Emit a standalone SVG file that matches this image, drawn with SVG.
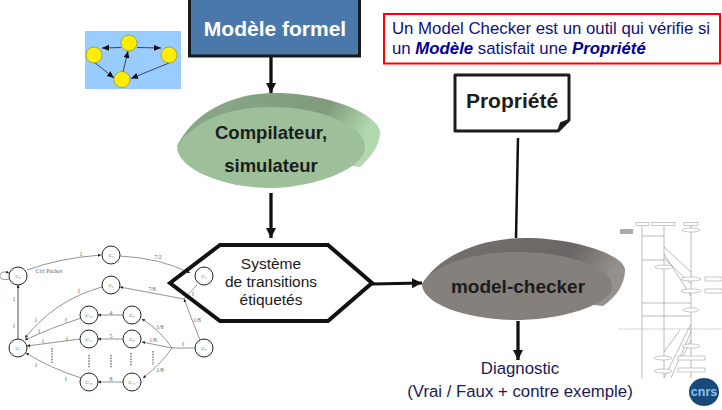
<svg xmlns="http://www.w3.org/2000/svg" width="722" height="410" viewBox="0 0 722 410">
<style>
text{font-family:"Liberation Sans",Arial,sans-serif;text-anchor:middle}
.main{stroke:#111;stroke-width:3.3;fill:none}
.lts{stroke:#777;stroke-width:.8;fill:none}
.st{stroke:#222;stroke-width:1;fill:#fff}
.sl{font-family:"Liberation Serif",serif;font-size:5px;fill:#555}
.el{font-family:"Liberation Serif",serif;font-size:6px;fill:#666}
.dot{stroke:#333;stroke-width:1;stroke-dasharray:1.5 1.2;fill:none}
.sq{stroke:#777;stroke-width:.5;fill:none}
.sb{stroke:#777;stroke-width:.4;fill:#fff}
.lab{fill:#1c1c1c;font-weight:bold}
.dg{fill:#1a1a55}
.yl{fill:#ffee00;stroke:#8a8a40;stroke-width:.7}
</style>
<defs>
<marker id="big" markerUnits="userSpaceOnUse" markerWidth="12" markerHeight="12" refX="10" refY="5" orient="auto"><path d="M0,0L10,5L0,10Z" fill="#111"/></marker>
<marker id="sm" markerUnits="userSpaceOnUse" markerWidth="9" markerHeight="8" refX="7" refY="3" orient="auto"><path d="M0,0L7,3L0,6Z" fill="#111"/></marker>
<marker id="tn" markerUnits="userSpaceOnUse" markerWidth="4" markerHeight="4" refX="3" refY="1.5" orient="auto"><path d="M0,0L3,1.5L0,3Z" fill="#222"/></marker>
<linearGradient id="gb" x1="0" y1="0" x2="1" y2="0.2"><stop offset="0" stop-color="#8cab89"/><stop offset=".75" stop-color="#7e9b7c"/><stop offset="1" stop-color="#b2d8ae"/></linearGradient>
<linearGradient id="mb" x1="0" y1="0" x2="1" y2="0.2"><stop offset="0" stop-color="#77726f"/><stop offset=".75" stop-color="#6b6664"/><stop offset="1" stop-color="#95908b"/></linearGradient>
</defs>

<g id="petit-graphe">
<rect x="85" y="31" width="96" height="58" fill="#99ccff"/>
<g style="stroke:#223;stroke-width:.8;fill:none">
<path d="M121,47.500L102,48" marker-end="url(#sm)"/>
<path d="M137,47.500L161,48" marker-end="url(#sm)"/>
<path d="M94,62L114,78" marker-end="url(#sm)"/>
<path d="M123,72L128,51" marker-end="url(#sm)"/>
<path d="M169,63L131,78.500" marker-end="url(#sm)"/>
</g>
<circle class="yl" cx="129" cy="43" r="8"/><circle class="yl" cx="94" cy="55" r="8"/><circle class="yl" cx="169" cy="55" r="8"/><circle class="yl" cx="122" cy="79.500" r="8"/>
</g>

<g id="lts">
<g class="lts">
<path d="M27,270Q60,258 101,255" marker-end="url(#tn)"/>
<path d="M120,256Q160,258 190,273" marker-end="url(#tn)"/>
<path d="M197,285L184,299"/>
<path d="M184,299L120,287" marker-end="url(#tn)"/>
<path d="M102,287Q55,300 25,338" marker-end="url(#tn)"/>
<path d="M81,318Q50,328 25,340" marker-end="url(#tn)"/>
<path d="M80,339L27,346" marker-end="url(#tn)"/>
<path d="M81,378Q50,368 26,353" marker-end="url(#tn)"/>
<path d="M123,315H98" marker-end="url(#tn)"/>
<path d="M123,339H98" marker-end="url(#tn)"/>
<path d="M123,382H98" marker-end="url(#tn)"/>
<path d="M195,348H172"/>
<path d="M172,348Q160,330 142,319" marker-end="url(#tn)"/>
<path d="M172,348L142,342" marker-end="url(#tn)"/>
<path d="M172,348Q160,365 143,378" marker-end="url(#tn)"/>
<path d="M200,340L184,299" marker-end="url(#tn)"/>
<path d="M18,339V285" style="stroke-width:1.300" marker-end="url(#tn)"/>
<path d="M9,279C-3,283 -3,268 9,273" marker-end="url(#tn)"/>
</g>
<g class="dot"><path d="M52,348V363"/><path d="M89,355V368"/><path d="M111,355V368"/><path d="M131,353V366"/><path d="M153,351V365"/></g>
<g class="st"><circle cx="18" cy="276" r="9"/><circle cx="111" cy="255" r="9"/><circle cx="111" cy="285" r="9"/><circle cx="204" cy="276" r="9"/><circle cx="18" cy="348" r="9"/><circle cx="89" cy="315" r="9"/><circle cx="132" cy="315" r="9"/><circle cx="89" cy="339" r="9"/><circle cx="132" cy="339" r="9"/><circle cx="89" cy="382" r="9"/><circle cx="132" cy="382" r="9"/><circle cx="204" cy="348" r="9"/></g>
<text class="sl" x="18" y="278">C₂</text><text class="sl" x="111" y="257">C₃</text><text class="sl" x="111" y="287">C₃</text><text class="sl" x="204" y="278">C₄</text><text class="sl" x="18" y="350">C₁</text><text class="sl" x="89" y="317">C₁₀</text><text class="sl" x="132" y="317">C₇</text><text class="sl" x="89" y="341">C₁₄</text><text class="sl" x="132" y="341">C₈</text><text class="sl" x="89" y="384">C₁₅</text><text class="sl" x="132" y="384">C₁₁</text><text class="sl" x="204" y="350">C₅</text>
<text class="el" x="49" y="273">Ctrl Packet</text><text class="el" x="81" y="256">1</text><text class="el" x="158" y="259">7/2</text><text class="el" x="79" y="293">f</text><text class="el" x="152" y="291">7/8</text><text class="el" x="193" y="296">f</text><text class="el" x="197" y="322">1/8</text><text class="el" x="14" y="301">1</text><text class="el" x="14" y="328">f</text><text class="el" x="36" y="322">1</text><text class="el" x="66" y="322">f</text><text class="el" x="39" y="333">1</text><text class="el" x="43" y="343">1</text><text class="el" x="67" y="341">f</text><text class="el" x="36" y="367">1</text><text class="el" x="66" y="381">f</text><text class="el" x="111" y="315">4</text><text class="el" x="111" y="338">5</text><text class="el" x="111" y="381">8</text><text class="el" x="160" y="329">1/8</text><text class="el" x="153" y="342">1/8</text><text class="el" x="160" y="372">1/8</text><text class="el" x="183" y="346">f</text>
</g>

<g id="sequence">
<g class="sq">
<path d="M642,226V378M664,226V378M691,226V378"/>
<path d="M642,236H664M664,260H642M691,303H642M642,316H691M664,247L691,272M664,254L691,296M664,258L691,284M691,324L664,378M691,332L671,378M691,340L681,360M680,330L664,352"/>
<path d="M619,329H722" stroke-dasharray="1.500 1"/>
</g>
<g class="sb">
<rect x="636" y="222.500" width="13" height="3"/><rect x="652" y="222.500" width="23" height="3"/><rect x="684" y="222.500" width="14" height="3"/>
<rect x="620" y="229" width="13" height="5" style="fill:#aaa;stroke:none"/>
<ellipse cx="691" cy="230" rx="9" ry="2"/><ellipse cx="664" cy="267" rx="9" ry="2"/><ellipse cx="691" cy="279" rx="10" ry="2"/><ellipse cx="691" cy="291" rx="10" ry="2"/><ellipse cx="691" cy="310" rx="8" ry="2"/><ellipse cx="691" cy="346" rx="9" ry="2"/><ellipse cx="663" cy="358" rx="9" ry="2"/><ellipse cx="663" cy="371" rx="9" ry="2"/>
<rect x="705" y="277" width="17" height="4"/><rect x="705" y="289" width="17" height="4"/><rect x="678" y="356" width="27" height="4"/><rect x="678" y="368" width="27" height="4"/>
</g>
</g>

<g id="connecteurs">
<path class="main" d="M271,56V93" marker-end="url(#big)"/>
<path class="main" d="M271,193V238" marker-end="url(#big)"/>
<path d="M372,284L422,283" style="stroke:#111;stroke-width:2.800;fill:none" marker-end="url(#big)"/>
<path d="M518,138L516,238" style="stroke:#111;stroke-width:2.500;fill:none"/>
<path class="main" d="M518,321V360" marker-end="url(#big)"/>
</g>

<g id="modele-formel">
<rect x="189.500" y="-5" width="170" height="61" fill="#4a78aa" stroke="#1a1a1a" stroke-width="3"/>
<text x="275" y="36" font-size="21" font-weight="bold" fill="#fff">Modèle formel</text>
</g>

<g id="compilateur">
<path d="M177,146C195,110 235,93 275,93C330,93 380,115 380,133C380,145 370,158 360,167Z" fill="url(#gb)"/>
<path d="M177,146C195,120 230,107 271,107C320,107 365,125 365,147C365,170 310,188 271,188C225,188 177,170 177,146Z" fill="#9dc09b"/>
<text class="lab" x="271" y="139" font-size="18.500">Compilateur,</text>
<text class="lab" x="271" y="172" font-size="18.500">simulateur</text>
</g>

<g id="systeme">
<path d="M170,283L220,245H328L372,283L328,321H220Z" fill="none" stroke="#111" stroke-width="4"/>
<g fill="#1a1a1a" font-size="15.500"><text x="271" y="269">Système</text><text x="271" y="287">de transitions</text><text x="271" y="305">étiquetés</text></g>
</g>

<g id="propriete">
<path d="M455,75H569V120L558,131H455Z" fill="#fff" stroke="#1a1a1a" stroke-width="3" stroke-linejoin="round"/>
<path d="M569,120L558,131L561,123Z" fill="#1a1a1a" stroke="#1a1a1a" stroke-width="2"/>
<text class="lab" x="512" y="108" font-size="21">Propriété</text>
</g>

<g id="model-checker">
<path d="M422,284C440,255 480,238 525,238C575,238 625,255 625,270C625,285 615,298 603,306Z" fill="url(#mb)"/>
<path d="M422,284C435,262 480,252 517,252C570,252 612,268 612,286C612,305 560,320 517,320C470,320 422,305 422,284Z" fill="#85807c"/>
<text class="lab" x="518" y="293" font-size="19">model-checker</text>
</g>

<g id="definition">
<rect x="384" y="14" width="336" height="49.500" fill="#fff" stroke="#ff0000" stroke-width="2"/>
<g font-size="16.800" fill="#10107a">
<text x="392" y="34" style="text-anchor:start">Un Model Checker est un outil qui vérifie si</text>
<text x="392" y="54" style="text-anchor:start">un <tspan font-weight="bold" font-style="italic" fill="#000090">Modèle</tspan> satisfait une <tspan font-weight="bold" font-style="italic" fill="#000090">Propriété</tspan></text>
</g>
</g>

<g id="diagnostic" font-size="16.800">
<text class="dg" x="520" y="374">Diagnostic</text>
<text class="dg" x="520" y="397">(Vrai / Faux + contre exemple)</text>
</g>

<g id="logo">
<ellipse cx="704" cy="392" rx="15" ry="14" fill="#174a78"/>
<text x="704" y="396" font-size="12.500" font-weight="bold" fill="#8cc4ee">cnrs</text>
</g>
</svg>
